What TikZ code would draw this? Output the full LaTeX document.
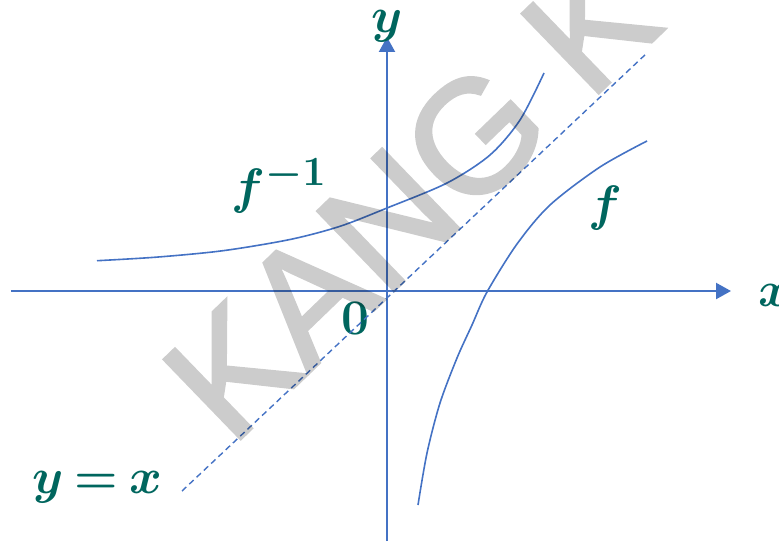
\documentclass[tikz,border=0pt]{standalone}
\usepackage{fontspec}
\usepackage{amsmath}
\usetikzlibrary{arrows.meta}
\newfontfamily\wmfont[FakeBold=2]{Liberation Sans}
\definecolor{axisblue}{HTML}{4472C4}
\definecolor{tealtext}{HTML}{00665E}
\tikzset{
  axis/.style={line width=1.1pt, draw=axisblue, -{Triangle[length=7.5pt,width=8pt]}},
  curve/.style={line width=0.8pt, draw=axisblue},
  mirror/.style={line width=0.7pt, draw=axisblue, dash pattern=on 3pt off 2pt},
  tag/.style={font=\Huge\boldmath, text=tealtext, inner sep=0pt},
  stamp/.style={font=\wmfont\fontsize{80}{80}\selectfont, text=black,
                inner sep=0pt, rotate=44, anchor=base west},
}

\begin{document}
\begin{tikzpicture}[x=0.5pt, y=0.5pt]
    \useasboundingbox (-387,-250) rectangle (392,291);
    \clip (-387,-250) rectangle (392,291);

    %% --- axes ---
    \coordinate (O) at (0,0);
    \coordinate (xl) at (-376,0);
    \coordinate (xr) at (344,0);
    \coordinate (yb) at (0,-250);
    \coordinate (yt) at (0,254);
    \draw[axis] (xl) -- (xr);
    \draw[axis] (yb) -- (yt);
    \node[tag, anchor=west] (xlab) at (371,-4) {$x$};
    \node[tag] (ylab) at (0,265) {$y$};
    \node[tag] (olab) at (-32,-27) {$0$};

    %% --- line y = x ---
    \coordinate (dl) at (-205,-200);
    \coordinate (du) at (260,238);
    \draw[mirror] (dl) -- (du);
    \node[tag] (diaglab) at (-290,-196) {$y\mkern-1.5mu=\mkern-1.5mu x$};

    %% --- f and its inverse ---
    \draw[curve] plot[smooth] coordinates {(-290,30.3) (-230,33.9) (-164,40.3) (-97,51.5)
        (-47,64.7) (0,83) (60,108) (103,136) (133,171) (157,218)};
    \draw[curve] plot[smooth] coordinates {(31,-214) (40,-162) (53,-112) (70,-67)
        (85,-34) (100,-1) (130,47) (163,86) (213,124) (260,150)};
    \node[tag] (finvlab) at (-108,105) {$f^{-1}$};
    \node[tag] (flab) at (218,83) {$f$};

    %% --- watermark ---
    \begin{scope}[transparency group, opacity=0.2]
      \node[stamp] (wm) at (-156,-157) {KANG K};
    \end{scope}
\end{tikzpicture}
\end{document}
